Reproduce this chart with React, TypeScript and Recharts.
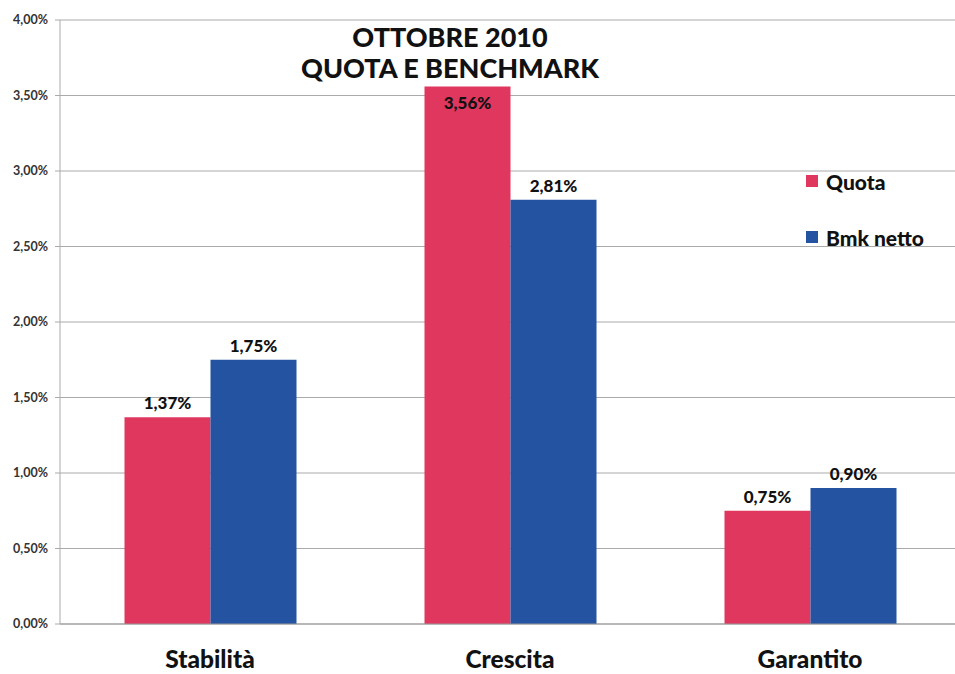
import React from "react";
import { Bar, BarChart, CartesianGrid, LabelList, XAxis, YAxis } from "recharts";

const categories = ["Stabilità", "Crescita", "Garantito"];
const quota = [1.37, 3.56, 0.75];
const bmkNetto = [1.75, 2.81, 0.9];
const yTicks = [0, 0.5, 1, 1.5, 2, 2.5, 3, 3.5, 4];
const titleLines = ["OTTOBRE 2010", "QUOTA E BENCHMARK"];

const series = [
  { key: "quota", name: "Quota", color: "#E0375F" },
  { key: "bmk", name: "Bmk netto", color: "#2453A1" },
];

const data = categories.map((name, i) => ({ name, quota: quota[i], bmk: bmkNetto[i] }));

const FONT = "Lato, 'Open Sans', sans-serif";
const fmt = (v: number) => v.toFixed(2).replace(".", ",") + "%";

// value labels: above the bar, or inside when the bar reaches the title area
const renderValue = (props: any) => {
  const { x, y, width, value } = props;
  const inside = value > 3.3;
  return (
    <text
      x={x + width / 2}
      y={inside ? y + 23 : y - 8}
      textAnchor="middle"
      fontSize={17}
      fontWeight={900}
      fontFamily={FONT}
      fill="#111"
    >
      {fmt(value)}
    </text>
  );
};

export default function App() {
  return (
    <div style={{ position: "absolute", left: 0, top: 0, width: 955, height: 674, overflow: "hidden", background: "#fff", fontFamily: FONT }}>
      <BarChart
        width={960}
        height={674}
        data={data}
        margin={{ top: 20, right: 0, bottom: 0, left: 0 }}
        barGap={0}
        barCategoryGap="21.5%"
      >
        <CartesianGrid vertical={false} stroke="#aaa" xAxisId="b_cat" />
        {/* boundary ticks between categories */}
        <XAxis
          xAxisId="a_bounds"
          type="number"
          domain={[0, 3]}
          ticks={[1, 2, 3]}
          height={8}
          tick={false}
          tickSize={7}
          stroke="#999"
          allowDataOverflow
        />
        <XAxis
          xAxisId="b_cat"
          dataKey="name"
          height={42}
          axisLine={false}
          tickLine={false}
          tickMargin={13}
          tick={{ fontSize: 24.5, fontWeight: 900, fill: "#111", fontFamily: FONT }}
        />
        <YAxis
          width={60}
          domain={[0, 4]}
          ticks={yTicks}
          tickFormatter={fmt}
          stroke="#aaa"
          tickSize={5}
          tickMargin={7}
          tick={{ fontSize: 12.5, fontWeight: "bold", fill: "#333", fontFamily: FONT }}
        />
        {series.map((s) => (
          <Bar key={s.key} xAxisId="b_cat" dataKey={s.key} name={s.name} fill={s.color} isAnimationActive={false}>
            <LabelList dataKey={s.key} content={renderValue} />
          </Bar>
        ))}
      </BarChart>
      <div style={{ position: "absolute", left: 230, top: 21, width: 440, textAlign: "center", fontSize: 27, fontWeight: 900, lineHeight: "31px", color: "#111" }}>
        {titleLines.map((t) => (
          <div key={t}>{t}</div>
        ))}
      </div>
      <div style={{ position: "absolute", left: 806, top: 166 }}>
        {series.map((s) => (
          <div key={s.key} style={{ display: "flex", alignItems: "center", height: 30, marginBottom: 26, fontSize: 21, fontWeight: 900, color: "#111" }}>
            <span style={{ width: 12, height: 12, background: s.color, marginRight: 8, display: "inline-block" }} />
            {s.name}
          </div>
        ))}
      </div>
    </div>
  );
}
